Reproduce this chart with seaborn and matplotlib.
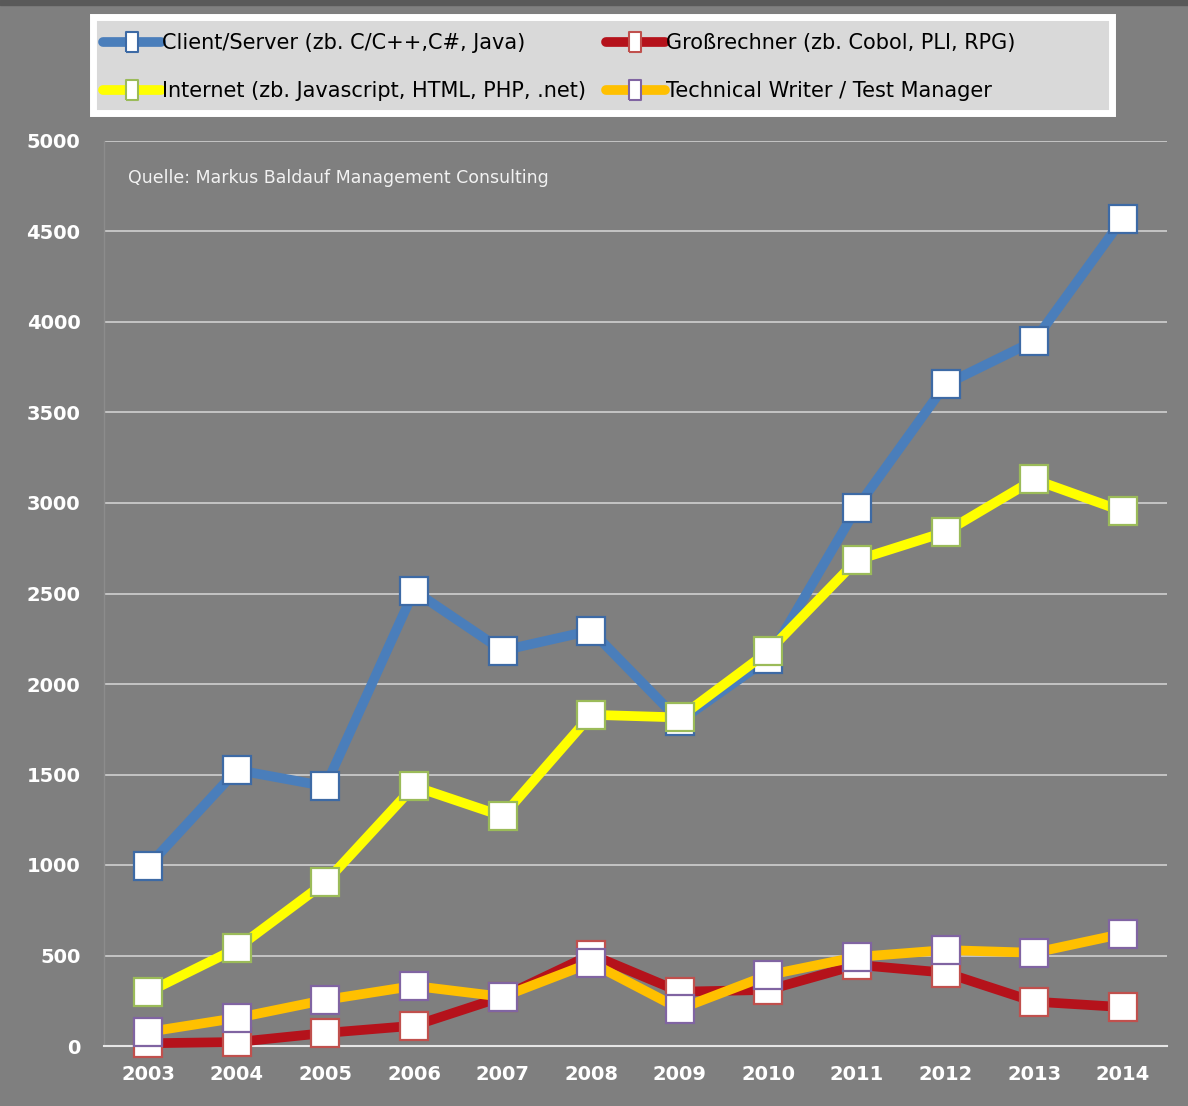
import numpy as np
import pandas as pd
import seaborn as sns
import matplotlib.pyplot as plt
from matplotlib.lines import Line2D

years = [2003, 2004, 2005, 2006, 2007, 2008, 2009, 2010, 2011, 2012, 2013, 2014]
client_server = [995, 1525, 1435, 2515, 2185, 2295, 1795, 2140, 2975, 3655, 3895, 4570]
grossrechner = [15, 22, 72, 112, 272, 505, 300, 310, 448, 405, 245, 215]
internet = [298, 540, 905, 1435, 1270, 1830, 1815, 2180, 2685, 2840, 3130, 2955]
tech_writer = [78, 155, 255, 332, 272, 460, 205, 392, 492, 530, 515, 620]

names = ["Client/Server (zb. C/C++,C#, Java)", "Großrechner (zb. Cobol, PLI, RPG)",
         "Internet (zb. Javascript, HTML, PHP, .net)", "Technical Writer / Test Manager"]
series = [client_server, grossrechner, internet, tech_writer]
line_colors = ["#4a7ebb", "#b5121b", "#ffff00", "#ffc000"]
edge_colors = ["#3d6aa5", "#c0504d", "#9bbb59", "#8064a2"]

bg = "#7f7f7f"
sns.set_style("white", {"axes.facecolor": bg, "figure.facecolor": bg})
plt.rcParams['font.family'] = ['DejaVu Sans']

fig, ax = plt.subplots(figsize=(11.88, 11.06), dpi=100)
fig.subplots_adjust(left=104/1188, right=1167/1188, bottom=1-1046/1106, top=1-141/1106)

for name, vals, lc, ec in zip(names, series, line_colors, edge_colors):
    df = pd.DataFrame({"Jahr": years, "Wert": vals})
    sns.lineplot(data=df, x="Jahr", y="Wert", ax=ax, color=lc, linewidth=7,
                 marker="s", markersize=20, markerfacecolor="white",
                 markeredgecolor=ec, markeredgewidth=1.6, clip_on=False,
                 label=name, legend=False, zorder=3)

ax.set_xlim(2002.5, 2014.5)
ax.set_ylim(0, 5000)
ax.set_yticks(range(0, 5001, 500))
ax.set_xticks(years)
ax.set_xticks(np.arange(2002.5, 2015, 1), minor=True)
ax.set_xlabel("")
ax.set_ylabel("")
ax.grid(axis="y", color="#d0d0d0", linewidth=1.2)
ax.set_axisbelow(True)
for s in ["top", "right"]:
    ax.spines[s].set_visible(False)
ax.spines["left"].set_color("#8c8c8c")
ax.spines["left"].set_linewidth(1)
ax.spines["bottom"].set_color("#e6e6e6")
ax.spines["bottom"].set_linewidth(1.5)
ax.tick_params(axis="x", which="major", length=0, pad=14, labelcolor="white", labelsize=14)
ax.tick_params(axis="x", which="minor", length=7, width=1.2, color="#e6e6e6", direction="out")
ax.tick_params(axis="y", length=5, color="#8c8c8c", pad=12, labelcolor="white", labelsize=14)
for lab in ax.get_xticklabels() + ax.get_yticklabels():
    lab.set_fontweight("bold")

ax.text(0.023, 0.959, "Quelle: Markus Baldauf Management Consulting", transform=ax.transAxes,
        color="#f2f2f2", fontsize=12.5, va="center", ha="left")

# legend box drawn separately, legend itself without frame
fig.add_artist(plt.Rectangle((93/1188, 1-113/1106), 1019/1188, 96/1106, transform=fig.transFigure,
                             facecolor="#d9d9d9", edgecolor="white", linewidth=5, zorder=1))

rect_marker = [(-0.55, -1), (0.55, -1), (0.55, 1), (-0.55, 1), (-0.55, -1)]
handles = [Line2D([], [], color=lc, linewidth=7, marker=rect_marker, markersize=15,
                  markerfacecolor="white", markeredgecolor=ec, markeredgewidth=1.5)
           for lc, ec in zip(line_colors, edge_colors)]
order = [0, 2, 1, 3]  # legend fills by column
leg = fig.legend([handles[i] for i in order], [names[i] for i in order], ncol=2, loc="center left",
                 bbox_to_anchor=(103/1188, 1-67/1106), fontsize=15, frameon=False,
                 labelcolor="black", handlelength=2.8, handletextpad=0.05,
                 borderaxespad=0, borderpad=0, labelspacing=1.35, columnspacing=0.95)
leg.set_zorder(2)

fig.add_artist(plt.Rectangle((0, 1-5/1106), 1, 5/1106, transform=fig.transFigure,
                             color="#595959", zorder=0))

fig.savefig("out.png", dpi=100, facecolor=bg)
